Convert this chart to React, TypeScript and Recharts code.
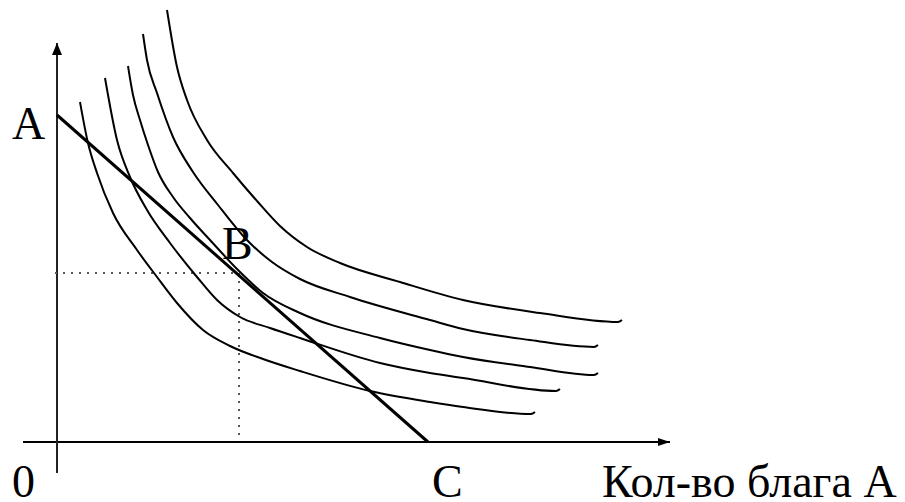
import React from "react";
import { ComposedChart, Line, Scatter, XAxis, YAxis } from "recharts";

// Indifference curves (quantity of good A on x, good B on y)
const curve1 = [
  { x: 2.3, y: 34.0 }, { x: 3.1, y: 29.9 }, { x: 4.0, y: 26.9 }, { x: 5.6, y: 22.9 },
  { x: 8.0, y: 19.2 }, { x: 10.0, y: 16.5 }, { x: 12.0, y: 13.9 }, { x: 14.6, y: 11.2 },
  { x: 17.3, y: 9.6 }, { x: 20.6, y: 8.3 }, { x: 24.3, y: 7.1 }, { x: 31.3, y: 5.1 },
  { x: 37.3, y: 4.0 }, { x: 40.6, y: 3.5 }, { x: 47.4, y: 2.8 }, { x: 47.8, y: 3.0 },
];
const curve2 = [
  { x: 4.8, y: 36.4 }, { x: 6.0, y: 30.2 }, { x: 7.3, y: 26.5 }, { x: 9.0, y: 23.2 },
  { x: 11.3, y: 19.9 }, { x: 14.0, y: 16.5 }, { x: 16.0, y: 14.2 }, { x: 18.3, y: 12.5 },
  { x: 21.3, y: 11.4 }, { x: 24.3, y: 10.4 }, { x: 32.3, y: 7.9 }, { x: 37.3, y: 6.9 },
  { x: 40.6, y: 6.4 }, { x: 49.9, y: 5.1 }, { x: 50.3, y: 5.3 },
];
const curve3 = [
  { x: 7.1, y: 37.6 }, { x: 7.6, y: 34.7 }, { x: 8.3, y: 32.2 }, { x: 9.1, y: 29.7 },
  { x: 10.1, y: 27.0 }, { x: 11.6, y: 24.5 }, { x: 13.3, y: 22.4 }, { x: 15.3, y: 20.2 },
  { x: 18.1, y: 17.2 }, { x: 20.6, y: 14.9 }, { x: 24.3, y: 12.9 }, { x: 32.3, y: 10.4 },
  { x: 37.3, y: 9.2 }, { x: 40.6, y: 8.5 }, { x: 47.3, y: 7.5 }, { x: 53.7, y: 6.7 },
  { x: 54.1, y: 6.9 },
];
const curve4 = [
  { x: 8.6, y: 40.8 }, { x: 9.0, y: 38.2 }, { x: 10.0, y: 34.9 }, { x: 11.6, y: 30.5 },
  { x: 13.6, y: 27.0 }, { x: 16.1, y: 23.7 }, { x: 18.8, y: 20.4 }, { x: 21.5, y: 18.0 },
  { x: 24.3, y: 16.3 }, { x: 29.3, y: 14.5 }, { x: 37.3, y: 12.2 }, { x: 40.6, y: 11.3 },
  { x: 47.3, y: 10.2 }, { x: 53.7, y: 9.5 }, { x: 54.1, y: 9.7 },
];
const curve5 = [
  { x: 11.0, y: 43.2 }, { x: 12.0, y: 37.5 }, { x: 13.0, y: 34.2 }, { x: 15.0, y: 30.2 },
  { x: 17.6, y: 26.9 }, { x: 20.0, y: 24.1 }, { x: 22.3, y: 21.6 }, { x: 25.0, y: 19.5 },
  { x: 28.3, y: 17.9 }, { x: 34.3, y: 16.0 }, { x: 40.6, y: 14.2 }, { x: 48.3, y: 12.9 },
  { x: 56.1, y: 12.0 }, { x: 56.5, y: 12.2 },
];
const curves = [curve1, curve2, curve3, curve4, curve5];

// Budget line A–C
const budgetLine = [{ x: 0, y: 32.7 }, { x: 37.1, y: 0 }];

// Point B projections
const guideH = [{ x: -0.2, y: 16.9 }, { x: 18.2, y: 16.9 }];
const guideV = [{ x: 18.2, y: 16.9 }, { x: 18.2, y: 0.7 }];

// Axes
const axisX = [{ x: -3.4, y: 0 }, { x: 61.3, y: 0 }];
const axisY = [{ x: 0, y: -3.1 }, { x: 0, y: 39.9 }];

// Text labels
const labels = [
  { x: -4.5, y: 30.3, text: "A" },
  { x: 16.5, y: 18.3, text: "B" },
  { x: -4.5, y: -5.5, text: "0" },
  { x: 37.5, y: -5.5, text: "C" },
  { x: 54.5, y: -5.45, text: "Кол-во блага А" },
];

const FONT = '"Liberation Serif", "Times New Roman", serif';

const arrowRight = (props: any) => {
  const { cx, cy, index } = props;
  if (index !== 1) return <g key={`ar${index}`} />;
  return (
    <polygon
      key={`ar${index}`}
      points={`${cx},${cy} ${cx - 12},${cy - 4} ${cx - 12},${cy + 4}`}
      fill="#000"
    />
  );
};
const arrowUp = (props: any) => {
  const { cx, cy, index } = props;
  if (index !== 1) return <g key={`au${index}`} />;
  return (
    <polygon
      key={`au${index}`}
      points={`${cx},${cy} ${cx - 5},${cy + 12} ${cx + 5},${cy + 12}`}
      fill="#000"
    />
  );
};

const LabelShape = (props: any) => {
  const { cx, cy, payload } = props;
  return (
    <text x={cx} y={cy} fontFamily={FONT} fontSize={46} fill="#000" textAnchor="start">
      {payload.text}
    </text>
  );
};

export default function App() {
  return (
    <ComposedChart
      width={890}
      height={494}
      margin={{ top: 0, right: 0, bottom: 0, left: 0 }}
    >
      <XAxis type="number" dataKey="x" domain={[-4.9, 84.1]} hide allowDataOverflow />
      <YAxis type="number" dataKey="y" domain={[-6.0, 43.4]} hide allowDataOverflow />
      <Line data={axisX} dataKey="y" type="linear" stroke="#000" strokeWidth={2} dot={arrowRight} isAnimationActive={false} />
      <Line data={axisY} dataKey="y" type="linear" stroke="#222" strokeWidth={2} dot={arrowUp} isAnimationActive={false} />
      <Line data={guideH} dataKey="y" type="linear" stroke="#555" strokeWidth={2} strokeDasharray="2 6" dot={false} isAnimationActive={false} />
      <Line data={guideV} dataKey="y" type="linear" stroke="#555" strokeWidth={2} strokeDasharray="2 6" dot={false} isAnimationActive={false} />
      {curves.map((c, i) => (
        <Line key={`c${i}`} data={c} dataKey="y" type="monotone" stroke="#000" strokeWidth={2} dot={false} isAnimationActive={false} />
      ))}
      <Line data={budgetLine} dataKey="y" type="linear" stroke="#000" strokeWidth={3} dot={false} isAnimationActive={false} />
      <Scatter data={labels} dataKey="y" shape={LabelShape} isAnimationActive={false} />
    </ComposedChart>
  );
}
